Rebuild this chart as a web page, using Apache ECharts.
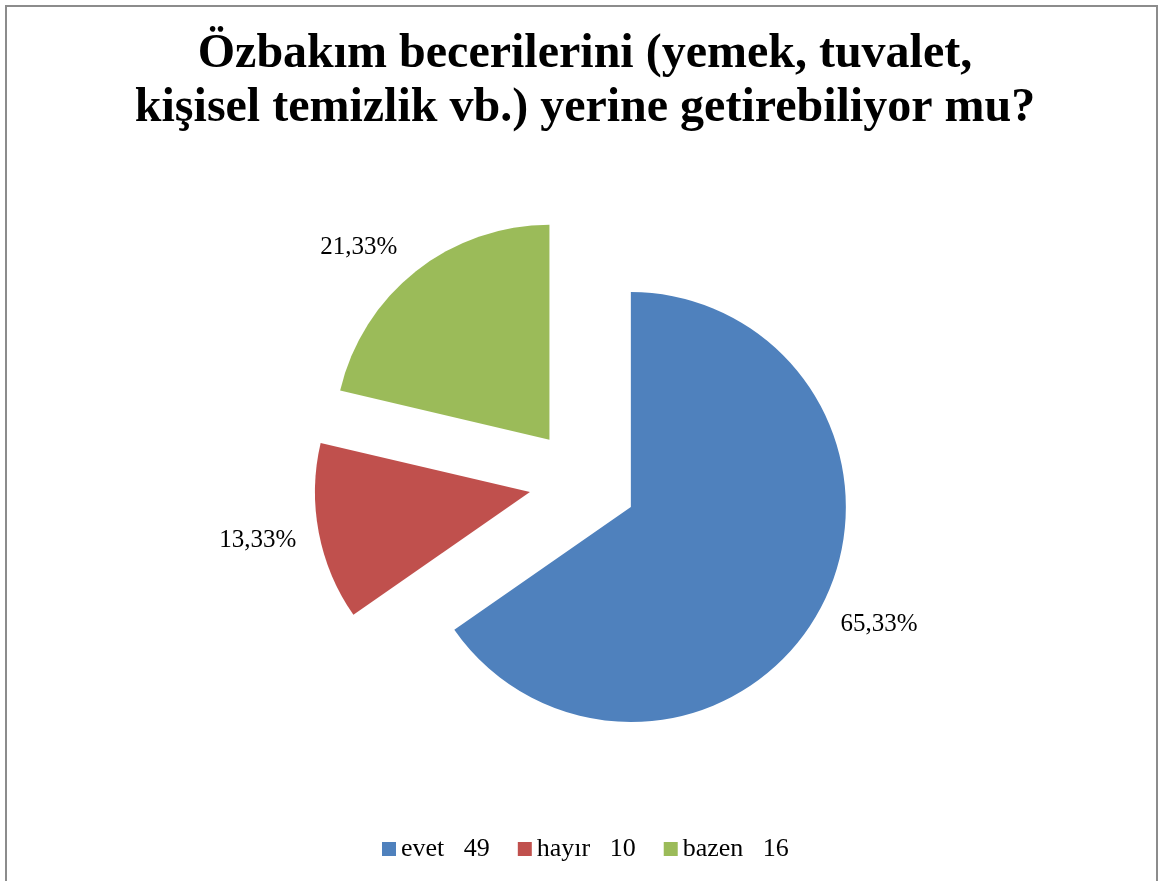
<!DOCTYPE html>
<html>
<head>
<meta charset="utf-8">
<title>Özbakım becerileri</title>
<script src="https://cdn.jsdelivr.net/npm/echarts@6/dist/echarts.min.js"></script>
<style>
    html, body { margin: 0; padding: 0; background: #fff; }
    #chart { width: 1158px; height: 881px; }
</style>
</head>
<body>
<div id="chart"></div>
<script>
    // veriler
    const categories = ['evet', 'hayır', 'bazen'];
    const counts = [49, 10, 16];
    const percentLabels = ['65,33%', '13,33%', '21,33%'];
    const colors = ['#4F81BD', '#C0504D', '#9BBB59'];
    // etiketlerin ince ayarı (px)
    const labelNudges = [[-8, 6], [7, 3], [2, -4]];

    const myChart = echarts.init(document.getElementById('chart'));

    const pieData = categories.map(function (name, i) {
        return {
            name: name,
            value: counts[i],
            selected: true,
            itemStyle: { color: colors[i] }
        };
    });

    let option = {
        animation: false,
        backgroundColor: '#fff',
        graphic: [{
            type: 'rect',
            shape: { x: 6, y: 6, width: 1151, height: 900 },
            style: { fill: 'none', stroke: '#8c8c8c', lineWidth: 2 },
            silent: true
        }],
        title: {
            text: 'Özbakım becerilerini (yemek, tuvalet,\nkişisel temizlik vb.) yerine getirebiliyor mu?',
            left: 580,
            textAlign: 'center',
            top: 23,
            textStyle: {
                fontFamily: '"Liberation Serif", "DejaVu Serif", serif',
                fontWeight: 'bold',
                fontSize: 48,
                lineHeight: 54,
                color: '#000'
            }
        },
        legend: {
            left: 377,
            top: 831,
            itemWidth: 14,
            itemHeight: 14,
            itemGap: 28,
            icon: 'rect',
            selectedMode: false,
            data: categories,
            formatter: function (name) {
                return name + '\u00a0\u00a0\u00a0' + counts[categories.indexOf(name)];
            },
            textStyle: {
                fontFamily: '"Liberation Serif", serif',
                fontSize: 26,
                color: '#000'
            }
        },
        series: [{
            type: 'pie',
            center: [583, 482],
            radius: 215,
            startAngle: 90,
            clockwise: true,
            selectedMode: 'multiple',
            selectedOffset: 54,
            avoidLabelOverlap: false,
            data: pieData,
            label: {
                show: true,
                position: 'outside',
                formatter: function (p) {
                    return percentLabels[p.dataIndex];
                },
                fontFamily: '"Liberation Serif", serif',
                fontSize: 25,
                color: '#000'
            },
            labelLine: { show: false, length: 25, length2: 0 },
            labelLayout: function (params) {
                const n = labelNudges[params.dataIndex];
                return { dx: n[0], dy: n[1] };
            },
            emphasis: { scale: false, disabled: true },
            select: { itemStyle: { borderWidth: 0 } }
        }]
    };

    myChart.setOption(option);
</script>
</body>
</html>
